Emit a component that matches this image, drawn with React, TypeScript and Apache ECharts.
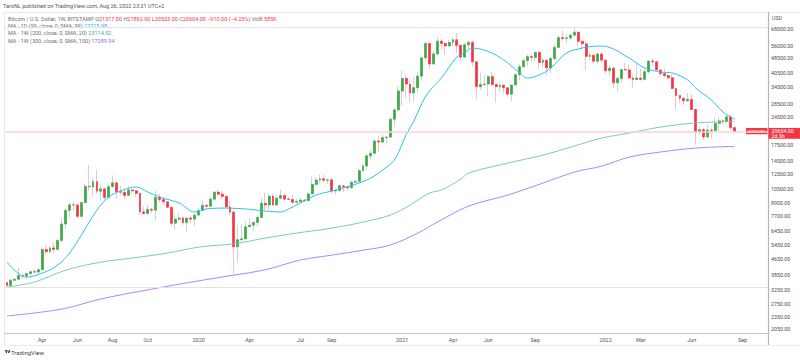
import React, { useEffect, useRef } from "react";
import * as echarts from "echarts";

// ---------- data ----------
const weekStart = Date.UTC(2019, 0, 28);
const totalWeeks = 195; // 187 candles + empty space on the right
const categories = Array.from({ length: totalWeeks }, (_, i) =>
  new Date(weekStart + i * 7 * 86400000).toISOString().slice(0, 10)
);

const opens = [
  3530, 3415, 3625, 3670, 3830, 3815, 3920, 4005, 3990, 4100, 5190, 5060, 5290, 5200, 5770, 6990, 8200, 8740, 8730, 7640,
  8980, 10850, 10800, 11450, 10250, 10530, 9530, 10810, 11300, 10200, 10130, 9760, 10400, 10300, 10000, 8050, 7900, 8300, 8220, 9550,
  9300, 9050, 8500, 7050, 7400, 7500, 7100, 7500, 7400, 7760, 8180, 8700, 8600, 9340, 10150, 9900, 9650, 8530, 8030, 5360,
  5820, 5880, 6770, 6900, 7120, 7540, 8900, 8730, 9680, 8720, 9450, 9750, 9340, 9300, 9010, 9080, 9250, 9180, 9930, 11100,
  11680, 11850, 11650, 11700, 10280, 10330, 10920, 10780, 10670, 11380, 11500, 13030, 13760, 15480, 15960, 18400, 18180, 19150, 19280, 23740,
  26480, 33000, 38200, 35800, 32280, 34300, 39250, 48600, 57500, 45200, 50900, 59000, 57400, 55800, 58200, 60000, 56200, 49000, 56600, 58200,
  46400, 34700, 35600, 35800, 39000, 35600, 34700, 35300, 34250, 31800, 35400, 39900, 43800, 47000, 49300, 48800, 51800, 46000, 47300, 43200,
  48200, 54900, 61500, 60900, 61300, 63300, 65500, 59000, 57200, 49400, 50100, 46700, 50800, 47300, 41800, 43100, 36300, 38200, 42400, 42200,
  38400, 37700, 38400, 37800, 41300, 46800, 46400, 42150, 40400, 39500, 38500, 34000, 31300, 30300, 29400, 29900, 26600, 20500, 21000, 19300,
  20900, 20800, 22600, 23300, 23200, 24400, 21517,
];
const highs = [
  3560, 3700, 3700, 4200, 3900, 3930, 4050, 4100, 4140, 5330, 5470, 5400, 5640, 5900, 7500, 8400, 8950, 9090, 8800, 9000,
  11200, 13880, 12000, 13200, 11100, 10650, 11080, 12320, 11450, 10950, 10600, 10900, 10450, 10350, 10050, 8550, 8700, 8420, 10350, 9950,
  9500, 9090, 8520, 7850, 7950, 7650, 7500, 7700, 7800, 8450, 9200, 8750, 9600, 10200, 10500, 10250, 9700, 9180, 8180, 6900,
  6950, 7200, 7470, 7200, 7740, 9460, 10060, 9950, 9900, 9740, 10430, 9990, 9600, 9800, 9360, 9470, 9350, 10150, 12100, 12050,
  12480, 12470, 11800, 12090, 10580, 11180, 10990, 10950, 11490, 11720, 13350, 14100, 15960, 16480, 18800, 19480, 19900, 19420, 24250, 26870,
  34780, 41950, 40100, 37850, 38500, 40900, 49000, 58300, 57500, 52600, 61700, 60600, 58400, 60100, 61200, 64900, 57000, 58000, 59600, 59500,
  46700, 40800, 39900, 39500, 41300, 36000, 36600, 35400, 34600, 35400, 40600, 45300, 48200, 50500, 50500, 51900, 52900, 48800, 47300, 49200,
  56600, 62900, 67000, 63700, 64200, 69000, 66400, 59200, 59100, 51900, 50100, 51900, 52000, 47500, 44400, 43500, 38900, 42500, 45800, 44800,
  39800, 45400, 42600, 42300, 46900, 48200, 47100, 42400, 42900, 40800, 40000, 34200, 31400, 30600, 32300, 31700, 26900, 21800, 21500, 22400,
  21600, 24300, 24600, 23700, 25200, 25000, 21892,
];
const lows = [
  3380, 3360, 3570, 3660, 3700, 3670, 3840, 3940, 3900, 4090, 4900, 4960, 4970, 5110, 5650, 6600, 7500, 8200, 7450, 7520,
  8970, 10300, 9700, 9900, 9100, 9200, 9420, 10700, 9460, 9800, 9330, 9750, 9900, 9600, 7750, 7780, 7750, 7950, 7300, 8970,
  8700, 8400, 6800, 6520, 7250, 6900, 6430, 7100, 6850, 7700, 8100, 8250, 8550, 9150, 9700, 9300, 8450, 7750, 3850, 4450,
  5700, 5850, 6750, 6450, 6800, 7500, 8100, 8200, 8640, 8650, 9300, 9250, 9250, 8830, 8950, 9050, 9000, 9140, 9900, 10950,
  11150, 11350, 11130, 9880, 9880, 10250, 10140, 10410, 10530, 11190, 11420, 12900, 13200, 14850, 15800, 16200, 18100, 17600, 19000, 21800,
  26080, 27700, 30400, 28800, 29300, 32300, 37400, 47000, 43000, 45000, 49300, 53300, 50400, 55700, 55500, 51500, 47000, 48800, 53000, 43800,
  30000, 33400, 34800, 31000, 34800, 28800, 32700, 32100, 31000, 29300, 35200, 37500, 43200, 43900, 46400, 46800, 42800, 43500, 39600, 40800,
  46900, 54400, 59700, 57900, 59400, 62300, 55600, 53300, 42000, 47100, 45600, 45600, 45700, 40500, 39600, 34000, 32900, 36300, 41700, 38000,
  34300, 37500, 37200, 37600, 40500, 44200, 42100, 39200, 38600, 37700, 33700, 26700, 28700, 28000, 29300, 26600, 17600, 19700, 18600, 19000,
  18900, 20700, 20700, 22400, 22700, 20800, 20533,
];
const closes = [
  3415, 3625, 3670, 3830, 3815, 3920, 4005, 3990, 4100, 5190, 5060, 5290, 5200, 5770, 6990, 8200, 8740, 8730, 7640, 8980,
  10850, 10800, 11450, 10250, 10530, 9530, 10810, 11300, 10200, 10130, 9760, 10400, 10300, 10000, 8050, 7900, 8300, 8220, 9550, 9300,
  9050, 8500, 7050, 7400, 7500, 7100, 7500, 7400, 7760, 8180, 8700, 8600, 9340, 10150, 9900, 9650, 8530, 8030, 5360, 5820,
  5880, 6770, 6900, 7120, 7540, 8900, 8730, 9680, 8720, 9450, 9750, 9340, 9300, 9010, 9080, 9250, 9180, 9930, 11100, 11680,
  11850, 11650, 11700, 10280, 10330, 10920, 10780, 10670, 11380, 11500, 13030, 13760, 15480, 15960, 18400, 18180, 19150, 19280, 23740, 26480,
  33000, 38200, 35800, 32280, 34300, 39250, 48600, 57500, 45200, 50900, 59000, 57400, 55800, 58200, 60000, 56200, 49000, 56600, 58200, 46400,
  34700, 35600, 35800, 39000, 35600, 34700, 35300, 34250, 31800, 35400, 39900, 43800, 47000, 49300, 48800, 51800, 46000, 47300, 43200, 48200,
  54900, 61500, 60900, 61300, 63300, 65500, 59000, 57200, 49400, 50100, 46700, 50800, 47300, 41800, 43100, 36300, 38200, 42400, 42200, 38400,
  37700, 38400, 37800, 41300, 46800, 46400, 42150, 40400, 39500, 38500, 34000, 31300, 30300, 29400, 29900, 26600, 20500, 21000, 19300, 20900,
  20800, 22600, 23300, 23200, 24400, 21517, 20604,
];

// moving averages: [week index, value]
const ma99d: [number, number][] = [
  [0, 4480], [5, 3760], [9, 3940], [13, 4330], [16, 4980], [19, 6140], [23, 8230], [26, 9580], [29, 10270], [33, 10760],
  [36, 10150], [39, 9580], [44, 8930], [48, 8040], [51, 8330], [56, 8420], [62, 8300], [66, 8130], [70, 8040], [72, 8330],
  [75, 8930], [79, 9800], [83, 10270], [86, 10640], [90, 11270], [93, 11950], [96, 13110], [99, 14730], [101, 17800], [102, 19800],
  [104, 23200], [106, 28500], [108, 33000], [111, 38400], [115, 49050], [117, 51400], [119, 54460], [124, 51400], [128, 45730], [131, 40720],
  [133, 38400], [136, 39750], [139, 43150], [143, 51400], [147, 54460], [148, 55120], [152, 55790], [155, 53870], [159, 48500], [163, 43150],
  [167, 41170], [170, 40720], [174, 37520], [176, 34180], [180, 29730], [183, 25840], [186, 23725.98],
];
const ma200w: [number, number][] = [
  [0, 3350], [7, 3550], [15, 4080], [24, 4480], [32, 4700], [41, 4980], [49, 5340], [58, 5550], [66, 5930], [74, 6290],
  [83, 6660], [91, 7150], [98, 7760], [103, 8720], [108, 10030], [111, 10390], [116, 11800], [118, 12670], [128, 14230], [137, 15620],
  [145, 17360], [152, 19050], [159, 20190], [167, 21660], [176, 22720], [186, 23114.52],
];
const ma300w: [number, number][] = [
  [0, 2390], [14, 2590], [24, 2915], [37, 3270], [50, 3630], [58, 3850], [66, 4100], [75, 4590], [83, 4860], [91, 5150],
  [98, 5470], [105, 6290], [110, 7150], [118, 8620], [128, 9800], [137, 11270], [145, 12810], [152, 13730], [159, 15260], [167, 16190],
  [176, 16950], [186, 17289.94],
];

const xTickLabels: [number, string][] = [
  [9, "Apr"], [18, "Jun"], [27, "Aug"], [36, "Oct"], [49, "2020"], [62, "Apr"], [75, "Jul"], [83, "Sep"],
  [101, "2021"], [114, "Apr"], [123, "Jun"], [135, "Sep"], [153, "2022"], [162, "Mar"], [175, "Jun"], [188, "Sep"],
];
const yTickLabels = [
  68000, 56000, 48500, 40500, 34500, 28500, 24500, 17500, 14500, 12500, 10500, 8900, 7700, 6450, 5450, 4650, 3850, 3250,
  2750, 2350, 2050,
];
const horizontalLevels = [69300, 3350];

// ---------- styles ----------
const FONT = "Roboto, 'DejaVu Sans', sans-serif";
const UP = "#3fa846";
const DOWN = "#f23645";
const UP_WICK = "#c9d5de";
const DOWN_WICK = "#f6c3c8";
const CYAN = "#2ec3e4";
const TEAL = "#7ccbb4";
const PURPLE = "#b084fb";

echarts.graphic.registerShape(
  "tvlogo",
  echarts.graphic.extendPath("M14 22H7V11H0V4h14v18zM28 22h-8l7.5-18h8L28 22z", {}) as any
);

export default function App() {
  const ref = useRef<HTMLDivElement>(null);
  useEffect(() => {
    const chart = echarts.init(ref.current!, null, { renderer: "svg" });
    const n = closes.length;
    const wickData = closes.map((c, i) => [opens[i], c, lows[i], highs[i]]);
    const bodyData = closes.map((c, i) => [opens[i], c, Math.min(opens[i], c), Math.max(opens[i], c)]);
    const xMap = new Map(xTickLabels.map(([i, t]) => [i, t]));
    const last = n - 1;

    chart.setOption({
      animation: false,
      backgroundColor: "#ffffff",
      grid: { left: 5, right: 32, top: 12, bottom: 28, containLabel: false },
      xAxis: {
        type: "category",
        data: categories,
        boundaryGap: true,
        axisLine: { show: true, lineStyle: { color: "#c4c4c4", width: 1 } },
        axisTick: { show: false },
        splitLine: { show: false },
        axisLabel: {
          interval: (index: number) => xMap.has(index),
          formatter: (_v: string, index: number) => xMap.get(index) ?? "",
          fontSize: 5.5,
          color: "#555",
          fontFamily: FONT,
          margin: 4,
          hideOverlap: false,
        },
      },
      yAxis: {
        type: "log",
        logBase: 10,
        min: 1960,
        max: 82940,
        position: "right",
        axisLine: { show: false },
        axisTick: { show: false },
        splitLine: { show: false },
        axisLabel: {
          customValues: yTickLabels,
          formatter: (v: number) => Number(v).toFixed(2),
          fontSize: 5.3,
          color: "#4a4a4a",
          fontFamily: FONT,
          margin: 3,
          align: "left",
        },
      },
      series: [
        {
          type: "candlestick",
          name: "wicks",
          data: wickData,
          barWidth: 1,
          silent: true,
          itemStyle: { color: UP_WICK, color0: DOWN_WICK, borderColor: UP_WICK, borderColor0: DOWN_WICK, borderWidth: 1 },
          z: 2,
        },
        {
          type: "candlestick",
          name: "BTCUSD",
          data: bodyData,
          barWidth: 2.4,
          silent: true,
          itemStyle: { color: UP, color0: DOWN, borderColor: UP, borderColor0: DOWN, borderWidth: 0.7 },
          markLine: {
            silent: true,
            symbol: "none",
            label: { show: false },
            data: [
              ...horizontalLevels.map((v) => ({ yAxis: v, lineStyle: { color: "#e2e2e2", width: 1, type: "solid" } })),
              { yAxis: closes[last], lineStyle: { color: "#fbd0d4", width: 1.5, type: "solid" } },
            ],
          },
          z: 3,
        },
        {
          type: "line", name: "MA 99D", data: ma99d, showSymbol: false, smooth: 0.35, silent: true,
          lineStyle: { color: CYAN, width: 1 }, z: 4,
        },
        {
          type: "line", name: "MA 200W", data: ma200w, showSymbol: false, smooth: 0.35, silent: true,
          lineStyle: { color: TEAL, width: 1 }, z: 4,
        },
        {
          type: "line", name: "MA 300W", data: ma300w, showSymbol: false, smooth: 0.35, silent: true,
          lineStyle: { color: PURPLE, width: 1 }, z: 4,
        },
      ],
    });

    const py = chart.convertToPixel({ yAxisIndex: 0 }, closes[last]) as number;
    const fmt = (v: number) => v.toFixed(2);
    const change = "−910.00 (−4.23%)";
    const grey = "#6f6f6f";
    const txt = (x: number, y: number, text: string, extra: any = {}) => ({
      type: "text",
      x,
      y,
      silent: true,
      style: { text, fontSize: 5.5, fontFamily: FONT, fill: grey, verticalAlign: "middle", ...extra },
    });

    chart.setOption({
      graphic: [
        // frame lines
        { type: "line", silent: true, shape: { x1: 4, y1: 12.5, x2: 800, y2: 12.5 }, style: { stroke: "#e8e8e8", lineWidth: 1 } },
        { type: "line", silent: true, shape: { x1: 4.5, y1: 12, x2: 4.5, y2: 345 }, style: { stroke: "#e8e8e8", lineWidth: 1 } },
        { type: "line", silent: true, shape: { x1: 4, y1: 345.5, x2: 800, y2: 345.5 }, style: { stroke: "#ececec", lineWidth: 1 } },
        { type: "line", silent: true, shape: { x1: 768.5, y1: 12, x2: 768.5, y2: 345 }, style: { stroke: "#b5b5b5", lineWidth: 1.2 } },
        // header
        txt(3, 6, "TaroNL published on TradingView.com, Aug 26, 2022 23:31 UTC+2", { fill: "#555" }),
        // legend
        {
          type: "text", x: 8, y: 18.5, silent: true,
          style: {
            text:
              `{t|Bitcoin / U.S. Dollar, 1W, BITSTAMP} {t|O}{r|${fmt(opens[last])}} {t|H}{r|${fmt(highs[last])}} ` +
              `{t|L}{r|${fmt(lows[last])}} {t|C}{r|${fmt(closes[last])}} {r|${change}} {t|Vol}{r|8.585K}`,
            fontSize: 5.5, fontFamily: FONT, verticalAlign: "middle",
            rich: {
              t: { fill: grey, fontSize: 5.5, fontFamily: FONT },
              r: { fill: DOWN, fontSize: 5.5, fontFamily: FONT },
            },
          },
        },
        {
          type: "text", x: 8, y: 25.5, silent: true,
          style: {
            text: `{t|MA - 1D (99, close, 0, SMA, 99)} {v|${fmt(ma99d[ma99d.length - 1][1])}}`,
            fontSize: 5.5, fontFamily: FONT, verticalAlign: "middle",
            rich: { t: { fill: grey, fontSize: 5.5, fontFamily: FONT }, v: { fill: "#1fb8dc", fontSize: 5.5, fontFamily: FONT } },
          },
        },
        {
          type: "text", x: 8, y: 33, silent: true,
          style: {
            text: `{t|MA - 1W (200, close, 0, SMA, 20)} {v|${fmt(ma200w[ma200w.length - 1][1])}}`,
            fontSize: 5.5, fontFamily: FONT, verticalAlign: "middle",
            rich: { t: { fill: grey, fontSize: 5.5, fontFamily: FONT }, v: { fill: "#3aae96", fontSize: 5.5, fontFamily: FONT } },
          },
        },
        {
          type: "text", x: 8, y: 40.5, silent: true,
          style: {
            text: `{t|MA - 1W (300, close, 0, SMA, 100)} {v|${fmt(ma300w[ma300w.length - 1][1])}}`,
            fontSize: 5.5, fontFamily: FONT, verticalAlign: "middle",
            rich: { t: { fill: grey, fontSize: 5.5, fontFamily: FONT }, v: { fill: "#9466f5", fontSize: 5.5, fontFamily: FONT } },
          },
        },
        // currency
        txt(772, 17.5, "USD", { fill: "#555", fontSize: 5.3 }),
        // price labels
        { type: "rect", silent: true, shape: { x: 746, y: py - 3.4, width: 21.5, height: 6.3 }, style: { fill: DOWN } },
        txt(756.7, py - 0.2, "BTCUSD", { fill: "#fff", fontSize: 4.4, align: "center" }),
        { type: "rect", silent: true, shape: { x: 768.5, y: py - 3.4, width: 31.5, height: 10.8 }, style: { fill: DOWN } },
        txt(771.5, py - 0.5, fmt(closes[last]), { fill: "#fff", fontSize: 5.3 }),
        txt(771.5, py + 4.8, "2d 3h", { fill: "#fff", fontSize: 5.3 }),
        // footer logo
        { type: "tvlogo", x: 4.7, y: 349.6, scaleX: 0.16, scaleY: 0.16, silent: true, style: { fill: "#222" } },
        { type: "circle", silent: true, shape: { cx: 4.7 + 20 * 0.16, cy: 349.6 + 8 * 0.16, r: 4 * 0.16 }, style: { fill: "#222" } },
        txt(11, 352, "TradingView", { fill: "#444", fontSize: 6 }),
      ],
    });

    return () => chart.dispose();
  }, []);
  return (
    <div
      ref={ref}
      style={{ position: "fixed", left: 0, top: 0, width: 800, height: 361, background: "#fff" }}
    />
  );
}
